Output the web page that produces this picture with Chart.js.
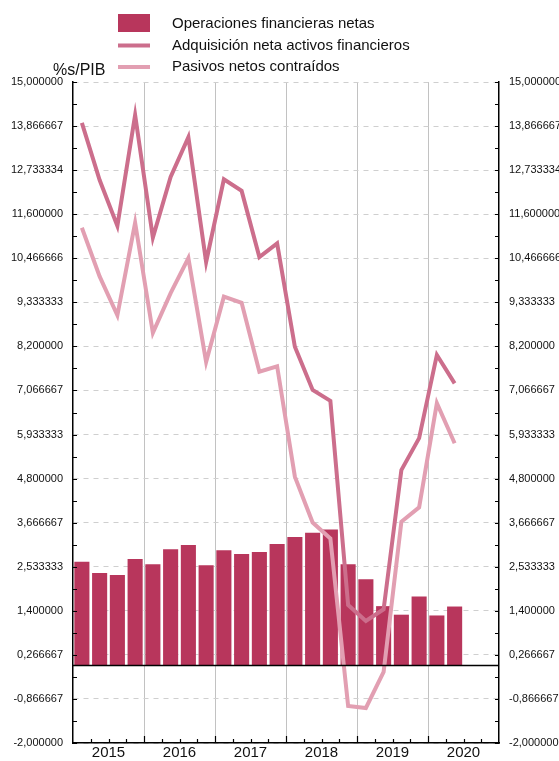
<!DOCTYPE html>
<html>
<head>
<meta charset="utf-8">
<script src="https://cdn.jsdelivr.net/npm/chart.js@4/dist/chart.umd.min.js"></script>
<style>
    html, body { margin: 0; padding: 0; background: #fff; }
    #wrap { width: 559px; height: 761px; position: relative; }
</style>
</head>
<body>
<div id="wrap"><canvas id="chart"></canvas></div>
<script>
//quarters from 2015 T1 to 2020 T4
const categories = [
    '2015 T1', '2015 T2', '2015 T3', '2015 T4',
    '2016 T1', '2016 T2', '2016 T3', '2016 T4',
    '2017 T1', '2017 T2', '2017 T3', '2017 T4',
    '2018 T1', '2018 T2', '2018 T3', '2018 T4',
    '2019 T1', '2019 T2', '2019 T3', '2019 T4',
    '2020 T1', '2020 T2', '2020 T3', '2020 T4'
];
const years = ['2015', '2016', '2017', '2018', '2019', '2020'];

//series values (% s/PIB)
const operacionesNetas = [2.66, 2.37, 2.32, 2.73, 2.60, 2.98, 3.09, 2.57, 2.96, 2.86, 2.91, 3.12,
    3.30, 3.41, 3.49, 2.60, 2.21, 1.52, 1.30, 1.77, 1.28, 1.51];
const adquisicionActivos = [13.95, 12.48, 11.30, 14.15, 11.00, 12.56, 13.58, 10.37, 12.50, 12.20, 10.50, 10.85,
    8.19, 7.08, 6.80, 1.55, 1.14, 1.44, 5.02, 5.84, 7.98, 7.25];
const pasivosContraidos = [11.25, 10.00, 9.00, 11.38, 8.55, 9.57, 10.47, 7.80, 9.48, 9.32, 7.55, 7.69,
    4.85, 3.67, 3.26, -1.05, -1.10, -0.17, 3.69, 4.06, 6.74, 5.71];

//y axis ticks and their labels
const yTicks = [-2, -0.866667, 0.266667, 1.4, 2.533333, 3.666667, 4.8, 5.933333, 7.066667,
    8.2, 9.333333, 10.466667, 11.6, 12.733334, 13.866667, 15];
const yTickLabels = ['-2,000000', '-0,866667', '0,266667', '1,400000', '2,533333', '3,666667',
    '4,800000', '5,933333', '7,066667', '8,200000', '9,333333', '10,466666', '11,600000',
    '12,733334', '13,866667', '15,000000'];

const FONT = '"Liberation Sans", Arial, Helvetica, sans-serif';

//plugin to draw inner ticks, zero line, year labels, axis title and the legend
const decorPlugin = {
    id: 'decor',
    afterDatasetsDraw(chart) {
        const ctx = chart.ctx;
        const area = chart.chartArea;
        const x = chart.scales.x;
        const y = chart.scales.y;
        ctx.save();

        //zero line
        ctx.strokeStyle = '#000';
        ctx.lineWidth = 1.5;
        ctx.beginPath();
        ctx.moveTo(area.left, Math.round(y.getPixelForValue(0)) + 0.5);
        ctx.lineTo(area.right, Math.round(y.getPixelForValue(0)) + 0.5);
        ctx.stroke();

        //inner ticks on left and right axes (major + minor)
        ctx.lineWidth = 1.2;
        ctx.beginPath();
        for (let i = 0; i < yTicks.length; i++) {
            const vals = [yTicks[i]];
            if (i < yTicks.length - 1) vals.push((yTicks[i] + yTicks[i + 1]) / 2);
            vals.forEach(v => {
                const py = Math.round(y.getPixelForValue(v)) + 0.5;
                ctx.moveTo(area.left, py);
                ctx.lineTo(area.left + 4, py);
                ctx.moveTo(area.right, py);
                ctx.lineTo(area.right - 4, py);
            });
        }
        //inner ticks on bottom axis at quarter boundaries
        for (let i = 1; i < categories.length; i++) {
            const px = Math.round((x.getPixelForTick(i - 1) + x.getPixelForTick(i)) / 2) + 0.5;
            const len = (i % 4 === 0) ? 7 : 4;
            ctx.moveTo(px, area.bottom);
            ctx.lineTo(px, area.bottom - len);
        }
        ctx.stroke();

        //year labels
        ctx.fillStyle = '#111';
        ctx.font = '15px ' + FONT;
        ctx.textAlign = 'center';
        ctx.textBaseline = 'middle';
        years.forEach((yr, k) => {
            const px = (x.getPixelForTick(k * 4 + 1) + x.getPixelForTick(k * 4 + 2)) / 2;
            ctx.fillText(yr, px, area.bottom + 10);
        });

        //axis title
        ctx.font = '16px ' + FONT;
        ctx.textAlign = 'left';
        ctx.textBaseline = 'alphabetic';
        ctx.fillText('%s/PIB', 53, 75);

        //legend
        const rows = [24, 45.5, 67];
        ctx.font = '15px ' + FONT;
        ctx.textBaseline = 'middle';
        chart.data.datasets.forEach((ds, i) => {
            const cy = rows[i];
            if (ds.type === 'bar') {
                ctx.fillStyle = ds.backgroundColor;
                ctx.fillRect(118, 14, 32, 18);
            } else {
                ctx.fillStyle = ds.borderColor;
                ctx.fillRect(118, cy - 2, 32, 4);
            }
            ctx.fillStyle = '#111';
            ctx.fillText(ds.label, 172, cy);
        });
        ctx.restore();
    }
};

const ctx = document.getElementById('chart').getContext('2d');
new Chart(ctx, {
    data: {
        labels: categories,
        datasets: [{
            type: 'bar',
            label: 'Operaciones financieras netas',
            data: operacionesNetas,
            backgroundColor: '#b8365c',
            categoryPercentage: 1,
            barPercentage: 0.85,
            order: 3
        }, {
            type: 'line',
            label: 'Adquisición neta activos financieros',
            data: adquisicionActivos,
            borderColor: '#cc6e8c',
            borderWidth: 4,
            pointRadius: 0,
            tension: 0,
            order: 1
        }, {
            type: 'line',
            label: 'Pasivos netos contraídos',
            data: pasivosContraidos,
            borderColor: '#e29fb2',
            borderWidth: 4,
            pointRadius: 0,
            tension: 0,
            order: 2
        }]
    },
    options: {
        responsive: true,
        maintainAspectRatio: false,
        animation: false,
        layout: {
            padding: { top: 82, bottom: 18, left: 0, right: 0 }
        },
        plugins: {
            legend: { display: false },
            tooltip: { enabled: false }
        },
        scales: {
            x: {
                offset: true,
                ticks: { display: false },
                grid: {
                    offset: true,
                    drawTicks: false,
                    lineWidth: 1,
                    color: c => (c.index % 4 === 0 && c.index > 0 && c.index < categories.length) ? '#c2c2c2' : 'rgba(0,0,0,0)'
                },
                border: { display: true, color: '#000', width: 1.5 }
            },
            y: {
                position: 'left',
                min: -2,
                max: 15,
                afterBuildTicks: scale => { scale.ticks = yTicks.map(v => ({ value: v })); },
                afterFit: scale => { scale.width = 73; },
                ticks: {
                    padding: 10,
                    color: '#111',
                    font: { family: FONT, size: 11 },
                    callback: (value, index) => yTickLabels[index]
                },
                grid: {
                    drawTicks: false,
                    color: '#cfcfcf',
                    lineWidth: 1
                },
                border: { display: true, color: '#000', width: 1.5, dash: [5, 5] }
            },
            y2: {
                position: 'right',
                min: -2,
                max: 15,
                afterBuildTicks: scale => { scale.ticks = yTicks.map(v => ({ value: v })); },
                afterFit: scale => { scale.width = 60; },
                ticks: {
                    padding: 10,
                    color: '#111',
                    font: { family: FONT, size: 11 },
                    callback: (value, index) => yTickLabels[index]
                },
                grid: { display: false, drawTicks: false },
                border: { display: true, color: '#000', width: 1.5 }
            }
        }
    },
    plugins: [decorPlugin]
});
</script>
</body>
</html>
